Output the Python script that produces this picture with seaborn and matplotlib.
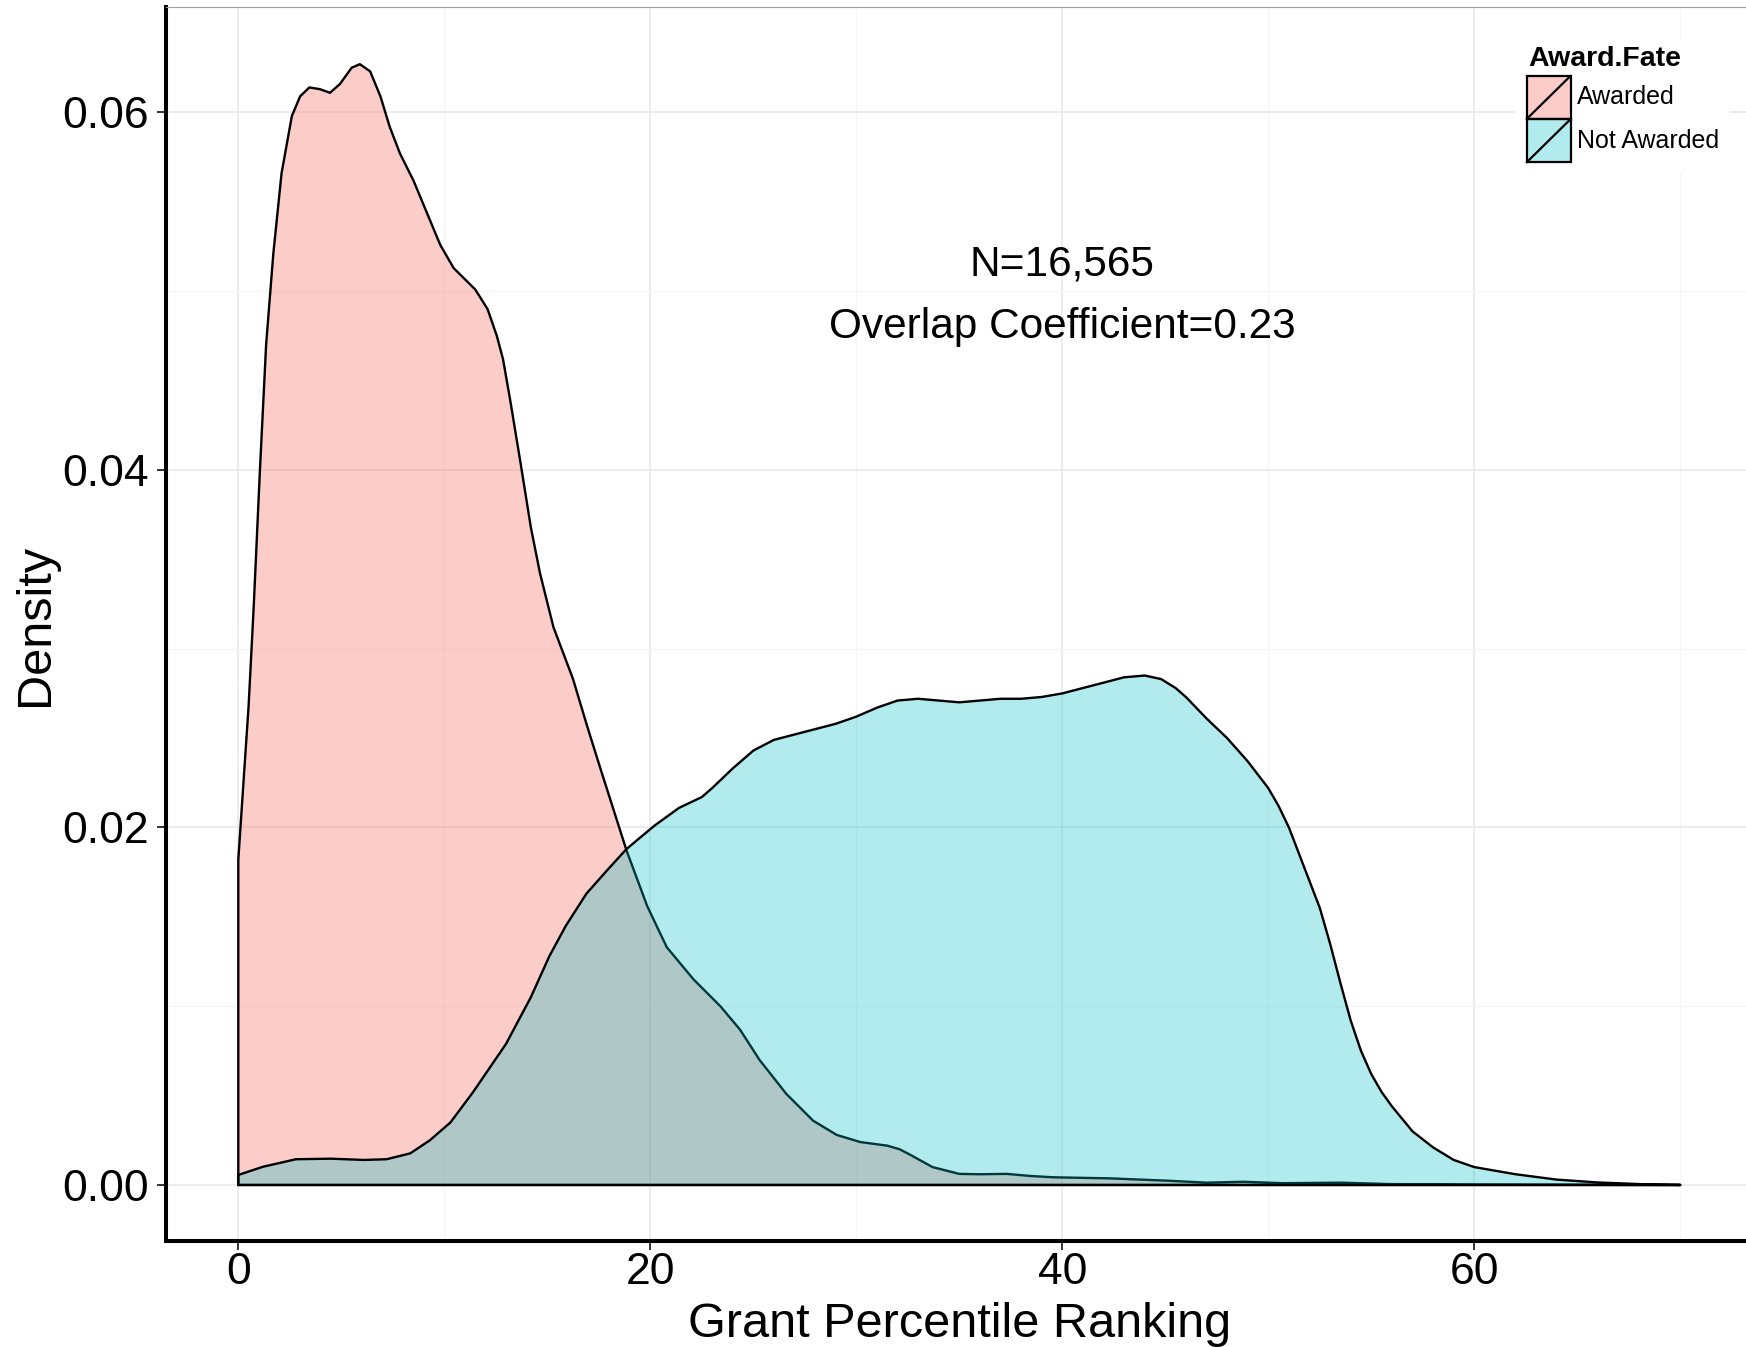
import matplotlib
matplotlib.use("Agg")
import matplotlib.pyplot as plt
import seaborn as sns
from matplotlib.patches import Rectangle
from matplotlib.lines import Line2D
from matplotlib.colors import to_rgb

# Density curves of grant percentile ranking by award outcome
awarded_x = [0, 0.5, 0.75, 1.05, 1.35, 1.7, 2.1, 2.6, 3.0, 3.45, 3.97, 4.45, 4.94,
             5.5, 5.9, 6.4, 6.9, 7.35, 7.85, 8.5, 9.15, 9.8, 10.45, 11.5, 12.1,
             12.55, 12.85, 13.2, 13.7, 14.2, 14.65, 15.3, 16.25, 16.9, 17.55,
             18.85, 19.85, 20.8, 22.1, 23.4, 24.35, 25.3, 26.6, 27.9, 29.05,
             30.2, 31.5, 32.1, 32.6, 33.7, 35.0, 36.0, 37.3, 38.5, 39.55, 42.3,
             45.1, 47.0, 48.8, 50.7, 53.5, 55.9, 60, 65, 70]
awarded_d = [0.0182, 0.0268, 0.0324, 0.0400, 0.0470, 0.0521, 0.0566, 0.0598,
             0.0609, 0.0614, 0.0613, 0.0611, 0.0616, 0.0625, 0.0627, 0.0623,
             0.0609, 0.0592, 0.0577, 0.0562, 0.0544, 0.0526, 0.0513, 0.0501,
             0.0490, 0.0475, 0.0462, 0.0439, 0.0404, 0.0368, 0.0342, 0.0312,
             0.0283, 0.0258, 0.0234, 0.0187, 0.0156, 0.0133, 0.0115, 0.0100,
             0.0087, 0.0070, 0.0051, 0.0036, 0.0028, 0.0024, 0.0022, 0.0020,
             0.0017, 0.0010, 0.00062, 0.0006, 0.00062, 0.0005, 0.00043,
             0.00037, 0.00024, 0.00013, 0.00018, 0.0001, 0.00013, 0.00005,
             0.00002, 0.00001, 0.0]

not_awarded_x = [0, 1.2, 2.8, 4.5, 6.1, 7.2, 8.35, 9.3, 10.3, 11.4, 13.0, 14.2,
                 15.1, 15.9, 16.9, 17.9, 18.85, 20.2, 21.4, 22.5, 23.0, 24.0,
                 25.0, 26.0, 27.0, 28.0, 29.0, 30.0, 31.0, 32.0, 33.0, 34.0,
                 35.0, 36.0, 37.0, 38.0, 39.0, 40.0, 41.0, 42.0, 43.0, 44.0,
                 44.8, 45.5, 46.0, 47.0, 48.0, 49.0, 50.0, 50.5, 51.0, 51.5,
                 52.0, 52.5, 53.0, 53.5, 54.0, 54.5, 55.0, 55.5, 56.0, 57.0,
                 58.0, 59.0, 60.0, 61.0, 62.0, 64.0, 66.0, 68.0, 70.0]
not_awarded_d = [0.00056, 0.00102, 0.00144, 0.00147, 0.0014, 0.00144, 0.00177,
                 0.0025, 0.0035, 0.0052, 0.0079, 0.0105, 0.0128, 0.0145,
                 0.0163, 0.0176, 0.0188, 0.0201, 0.0211, 0.0217, 0.0222,
                 0.0233, 0.0243, 0.0249, 0.0252, 0.0255, 0.0258, 0.0262,
                 0.0267, 0.0271, 0.0272, 0.0271, 0.0270, 0.0271, 0.0272,
                 0.0272, 0.0273, 0.0275, 0.0278, 0.0281, 0.0284, 0.0285,
                 0.0283, 0.0278, 0.0273, 0.0261, 0.0250, 0.0237, 0.0222,
                 0.0212, 0.0200, 0.0185, 0.0170, 0.0155, 0.0135, 0.0113,
                 0.0092, 0.0075, 0.0062, 0.0052, 0.0044, 0.0030, 0.0021,
                 0.0014, 0.0010, 0.0008, 0.0006, 0.0003, 0.00014, 0.00005, 0.0]

groups = ["Awarded", "Not Awarded"]
group_colors = ["#F8766D", "#00BFC4"]
group_alpha = [0.37, 0.30]

x_ticks = [0, 20, 40, 60]
y_ticks = [0.00, 0.02, 0.04, 0.06]
y_tick_labels = ["0.00", "0.02", "0.04", "0.06"]

sns.set_theme(style="white")
plt.rcParams["font.family"] = ["Liberation Sans", "DejaVu Sans"]
plt.rcParams["text.color"] = "black"
plt.rcParams["axes.labelcolor"] = "black"

W, H = 1746, 1347
fig = plt.figure(figsize=(W / 100, H / 100), dpi=100)


def fx(px):
    return px / W


def fy(py):
    return 1 - py / H


ax = fig.add_axes([fx(166.2), fy(1241.1), (1752.4 - 166.2) / W, (1241.1 - 7) / H])

series = [(awarded_x, awarded_d), (not_awarded_x, not_awarded_d)]
for i, ((xs, ds), col, a) in enumerate(zip(series, group_colors, group_alpha)):
    # closed outline: left edge, curve, baseline back to the start
    px = [xs[0]] + list(xs) + [xs[-1], xs[0]]
    py = [0.0] + list(ds) + [0.0, 0.0]
    ax.fill(px, py, color=col, alpha=a, lw=0, zorder=2 + 2 * i)
    sns.lineplot(x=px, y=py, sort=False, estimator=None, color="black",
                 lw=1.7, ax=ax, zorder=3 + 2 * i,
                 solid_joinstyle="round", solid_capstyle="round")

ax.set_xlim(-3.5, 73.5)
ax.set_ylim(-0.00314, 0.0659)
ax.set_xticks(x_ticks)
ax.set_xticks([10, 30, 50, 70], minor=True)
ax.set_yticks(y_ticks)
ax.set_yticklabels(y_tick_labels)
ax.set_yticks([0.01, 0.03, 0.05], minor=True)
ax.set_xlabel("")
ax.set_ylabel("")

ax.set_axisbelow(True)
ax.grid(which="major", color="#ebebeb", lw=1.3)
ax.grid(which="minor", color="#f5f5f5", lw=0.9)

ax.tick_params(axis="both", which="major", bottom=True, left=True, length=6.5,
               width=1.4, color="#333333", labelsize=32, labelcolor="black")
ax.tick_params(axis="x", which="major", pad=1.5)
ax.tick_params(axis="y", which="major", pad=5.8)
ax.tick_params(which="minor", length=0)

for side in ["left", "bottom"]:
    ax.spines[side].set_color("black")
    ax.spines[side].set_linewidth(2.9)
ax.spines["top"].set_color("#a0a0a0")
ax.spines["top"].set_linewidth(0.8)
ax.spines["right"].set_visible(False)

ax.text(40, 0.05088, "N=16,565", ha="center", va="baseline", fontsize=30.5,
        color="black", zorder=10)
ax.text(40, 0.04739, "Overlap Coefficient=0.23", ha="center", va="baseline",
        fontsize=30.5, color="black", zorder=10)

fig.text(fx(960), fy(1336.7), "Grant Percentile Ranking", ha="center",
         va="baseline", fontsize=35, color="black")
fig.text(fx(36), fy(625), "Density", rotation=90, ha="center", va="center",
         fontsize=35, color="black")

# legend
fig.add_artist(Rectangle((fx(1515), fy(173)), (1730 - 1515) / W, (173 - 40) / H,
                         transform=fig.transFigure, facecolor="white",
                         edgecolor="none", zorder=5))
fig.text(fx(1528), fy(65.7), "Award.Fate", fontweight="bold", fontsize=20.5,
         va="baseline", ha="left", color="black", zorder=6)
key_tops = [75.7, 119.0]
key_h = 43.3
for top, label, col, a in zip(key_tops, groups, group_colors, group_alpha):
    fig.add_artist(Rectangle((fx(1526.7), fy(top + key_h)), 44 / W, key_h / H,
                             transform=fig.transFigure,
                             facecolor=(*to_rgb(col), a), edgecolor="black",
                             lw=1.6, zorder=6))
    fig.add_artist(Line2D([fx(1526.7), fx(1570.7)], [fy(top + key_h), fy(top)],
                          transform=fig.transFigure, color="black", lw=1.6,
                          zorder=7))
    fig.text(fx(1576.7), fy(top + key_h / 2), label, fontsize=18, ha="left",
             va="center", color="black", zorder=7)

fig.savefig("out.png", dpi=100)
